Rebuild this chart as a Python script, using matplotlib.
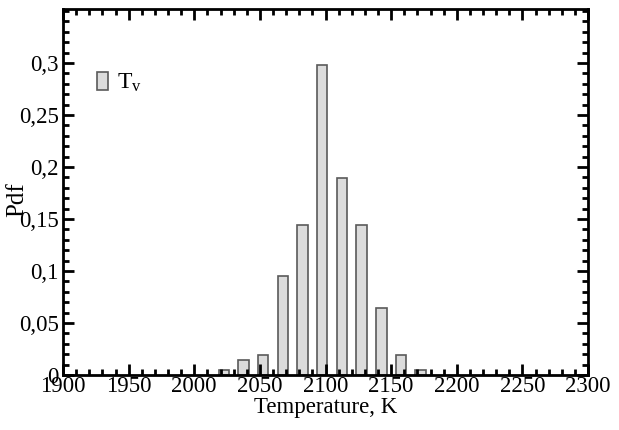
import numpy as np
import matplotlib
matplotlib.use("Agg")
import matplotlib.pyplot as plt
from matplotlib.ticker import MultipleLocator, FixedLocator, FuncFormatter

# histogram data (bin centres, K) and pdf values
temp_centers = [2022.5, 2037.5, 2052.5, 2067.5, 2082.5, 2097.5,
                2112.5, 2127.5, 2142.5, 2157.5, 2172.5]
pdf_values = [0.0045, 0.014, 0.019, 0.095, 0.144, 0.298,
              0.189, 0.144, 0.064, 0.019, 0.0045]
y_ticks = [0, 0.05, 0.1, 0.15, 0.2, 0.25, 0.3]
series_label = r"T$_{\mathrm{v}}$"

plt.rcParams["font.family"] = ["Liberation Serif", "DejaVu Serif"]
plt.rcParams["mathtext.fontset"] = "custom"
plt.rcParams["mathtext.rm"] = "Liberation Serif"
plt.rcParams["mathtext.it"] = "Liberation Serif:italic"

fig = plt.figure(figsize=(6.19, 4.30), dpi=100)
ax = fig.add_axes([63 / 619, 1 - 375 / 430, 525 / 619, 366 / 430])

ax.bar(temp_centers, pdf_values, width=8, color="#dcdcdc",
       edgecolor="#5a5a5a", linewidth=1.2, label=series_label, zorder=1)

ax.set_xlim(1900, 2300)
ax.set_ylim(0, 0.352)

ax.xaxis.set_major_locator(MultipleLocator(50))
ax.xaxis.set_minor_locator(MultipleLocator(10))
ax.yaxis.set_major_locator(FixedLocator(y_ticks))
ax.yaxis.set_minor_locator(MultipleLocator(0.01))


def comma_fmt(v, pos):
    if abs(v) < 1e-9:
        return "0"
    return ("%g" % round(v, 3)).replace(".", ",")


ax.yaxis.set_major_formatter(FuncFormatter(comma_fmt))

ax.tick_params(which="both", direction="in", top=True, right=True,
               width=2, labelsize=16.5, pad=3)
ax.tick_params(which="major", length=8)
ax.tick_params(which="minor", length=4.5)
ax.tick_params(axis="x", which="major", pad=1)
for s in ax.spines.values():
    s.set_linewidth(2)
    s.set_zorder(5)

ax.set_xlabel("Temperature, K", fontsize=16.5, labelpad=0)
ax.set_ylabel("Pdf", fontsize=18)
ax.yaxis.set_label_coords(-0.066, 0.478)

ax.legend(loc="upper left", bbox_to_anchor=(0.047, 0.855), frameon=False,
          fontsize=17, handlelength=0.45, handleheight=0.8,
          handletextpad=0.4, borderaxespad=0)

fig.savefig("out.png", dpi=100)
